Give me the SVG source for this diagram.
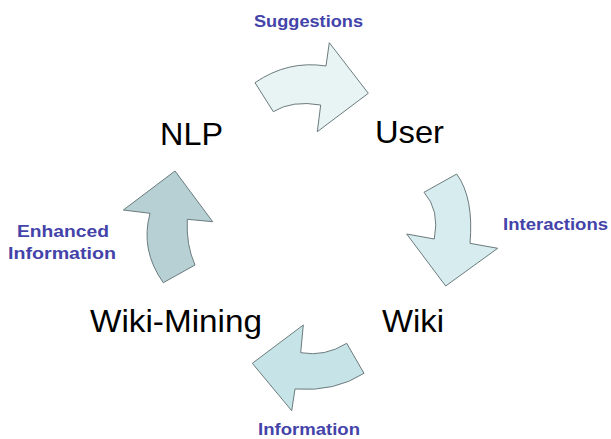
<svg xmlns="http://www.w3.org/2000/svg" width="611" height="439" viewBox="0 0 611 439">
<style>
.arrow{stroke:#6b7b7d;stroke-width:1;stroke-linejoin:miter}
.big{font-family:"Liberation Sans",Arial,sans-serif;font-size:32px;fill:#000}
.lbl{font-family:"Liberation Sans",Arial,sans-serif;font-size:17px;font-weight:bold;fill:#4343a9}
</style>
<rect width="611" height="439" fill="#fff"/>
<g id="connectors">
<path id="arrow-suggestions" class="arrow" fill="#e8f4f4" d="M255,82.7 Q288,60 326,66 L329.3,42.7 L368.3,93.3 L317.3,131.7 L320.7,105 Q292,100 273.3,111.7 Z"/>
<path id="arrow-interactions" class="arrow" fill="#d7ecef" d="M424,192.3 Q440,210 434.3,239 L406.7,234 L445.7,286 L497.7,248.3 L470,243.3 Q474,198 456.7,174 Z"/>
<path id="arrow-information" class="arrow" fill="#c6e4e7" d="M346.7,343.3 Q325,357 300.7,352.7 L303.3,325 L252.3,363.3 L291.7,410.7 L295,389 Q335,392 364,373.3 Z"/>
<path id="arrow-enhanced" class="arrow" fill="#b6d0d4" d="M163.3,282.7 Q140,250 150,213.3 L123.3,210 L175,171 L212.7,221.7 L187.3,219.3 Q186,245 195,265 Z"/>
</g>
<g id="node-nlp"><text class="big" x="160" y="145" textLength="63" lengthAdjust="spacingAndGlyphs">NLP</text></g>
<g id="node-user"><text class="big" x="375" y="143" textLength="69" lengthAdjust="spacingAndGlyphs">User</text></g>
<g id="node-wiki"><text class="big" x="382" y="332" textLength="62" lengthAdjust="spacingAndGlyphs">Wiki</text></g>
<g id="node-wiki-mining"><text class="big" x="90" y="332" textLength="172" lengthAdjust="spacingAndGlyphs">Wiki-Mining</text></g>
<g id="labels">
<text class="lbl" x="254" y="27" textLength="109" lengthAdjust="spacingAndGlyphs">Suggestions</text>
<text class="lbl" x="503" y="230" textLength="105" lengthAdjust="spacingAndGlyphs">Interactions</text>
<text class="lbl" x="17" y="237" textLength="92" lengthAdjust="spacingAndGlyphs">Enhanced</text>
<text class="lbl" x="8" y="259" textLength="108" lengthAdjust="spacingAndGlyphs">Information</text>
<text class="lbl" x="258" y="435" textLength="102" lengthAdjust="spacingAndGlyphs">Information</text>
</g>
</svg>
